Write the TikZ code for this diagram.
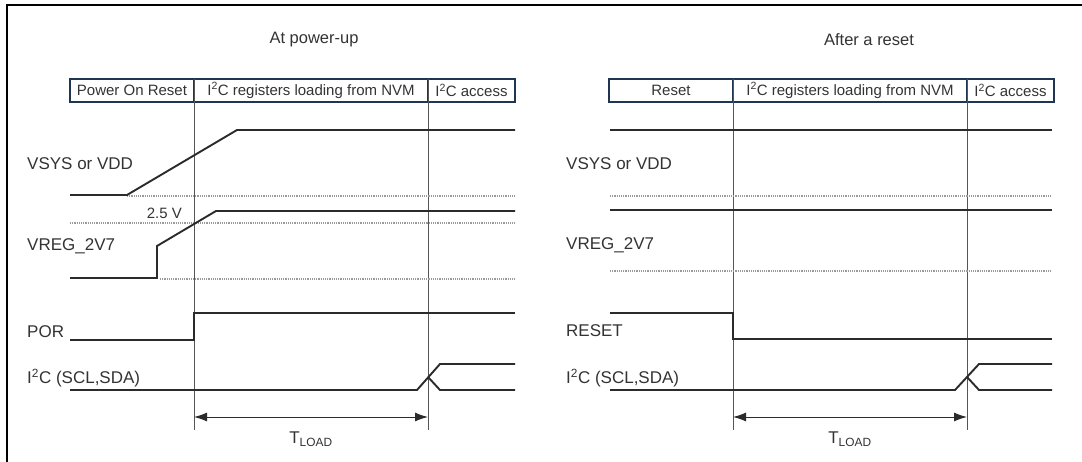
\documentclass[tikz,border=0pt]{standalone}
\usepackage{fontspec}
\setmainfont{Liberation Sans}
\usetikzlibrary{positioning,arrows.meta}

\definecolor{sigline}{HTML}{2B2B2B}
\definecolor{gridline}{HTML}{9A9A9A}
\definecolor{markline}{HTML}{555555}
\definecolor{boxline}{HTML}{1F3552}
\definecolor{labeltext}{HTML}{333333}

\tikzset{
  signal/.style={draw=sigline, line width=1.9pt},
  marker/.style={draw=markline, line width=0.9pt},
  level/.style={draw=gridline, line width=1.2pt, densely dotted},
  phasebox/.style={draw=boxline, line width=1.3pt, minimum height=23pt,
    inner sep=0pt, outer sep=0pt, text=labeltext,
    font=\fontsize{15}{17}\selectfont},
  siglabel/.style={anchor=west, inner sep=0pt, text=labeltext,
    font=\fontsize{17}{19}\selectfont},
  heading/.style={inner sep=0pt, text=labeltext,
    font=\fontsize{16.5}{19}\selectfont},
  span/.style={draw=sigline, line width=1pt,
    {Latex[length=13pt,width=9pt]}-{Latex[length=13pt,width=9pt]}},
}

\newcommand{\iic}{I\textsuperscript{2}C}

\begin{document}
\begin{tikzpicture}[x=1pt, y=-1pt]
      \useasboundingbox (0,0) rectangle (1082,462);
      % frame round the figure
      \draw[line width=2.6pt] (7,462) -- (7,5) -- (1082,5);

      % AtPowerUp:
      %   phases after the supply comes up
      \node[heading] (upTitle) at (314,40) {At power-up};
      \node[phasebox, anchor=west, minimum width=124pt] (upPor) at (70,90.5) {Power On Reset};
      \node[phasebox, right=0pt of upPor, minimum width=234pt] (upLoad) {\iic{} registers loading from NVM};
      \node[phasebox, right=0pt of upLoad, minimum width=87pt] (upAccess) {\iic{} access};
      \coordinate (upT0) at (194,430);
      \coordinate (upT1) at (428,430);
      \draw[marker] (upLoad.north west) -- (upT0);
      \draw[marker] (upAccess.north west) -- (upT1);
      % supply, regulator and reset waveforms
      \node[siglabel] (upVsys) at (27,164) {VSYS or VDD};
      \draw[level] (127,196) -- (515,196);
      \draw[signal] (70,195) -- (127,195) -- (237,130) -- (515,130);
      \node[siglabel, anchor=east, font=\fontsize{15}{17}\selectfont] (upLevel) at (182,213) {2.5 V};
      \node[siglabel] (upVreg) at (27,246) {VREG\_2V7};
      \draw[level] (70,223) -- (515,223);
      \draw[level] (160,279) -- (515,279);
      \draw[signal] (70,278) -- (157,278) -- (157,246) -- (216,211) -- (515,211);
      \node[siglabel] (upPorSig) at (27,332) {POR};
      \draw[signal] (70,340) -- (194,340) -- (194,313) -- (515,313);
      \node[siglabel] (upBus) at (27,378) {\iic{} (SCL,SDA)};
      \draw[signal] (70,390) -- (417,390) -- (440,364) -- (515,364);
      \draw[signal] (428,377) -- (440,390) -- (515,390);
      % load time
      \coordinate (upA) at (194,417);
      \coordinate (upB) at (428,417);
      \draw[span] (upA) -- (upB)
        node[midway, below=11pt, text=labeltext, font=\fontsize{17}{19}\selectfont] (upLoadTime) {T\textsubscript{LOAD}};

      % AfterReset:
      %   same phases, supply already up
      \begin{scope}[xshift=539pt]
      \node[heading] (rstTitle) at (330,40) {After a reset};
      \node[phasebox, anchor=west, minimum width=124pt] (rstPhase) at (70,90.5) {Reset};
      \node[phasebox, right=0pt of rstPhase, minimum width=234pt] (rstLoad) {\iic{} registers loading from NVM};
      \node[phasebox, right=0pt of rstLoad, minimum width=87pt] (rstAccess) {\iic{} access};
      \coordinate (rstT0) at (194,430);
      \coordinate (rstT1) at (428,430);
      \draw[marker] (rstLoad.north west) -- (rstT0);
      \draw[marker] (rstAccess.north west) -- (rstT1);
      \node[siglabel] (rstVsys) at (27,164) {VSYS or VDD};
      \draw[level] (71,196) -- (513,196);
      \draw[signal] (71,130) -- (513,130);
      \node[siglabel] (rstVreg) at (27,245) {VREG\_2V7};
      \draw[level] (71,271) -- (513,271);
      \draw[signal] (71,210) -- (513,210);
      \node[siglabel] (rstSig) at (27,331) {RESET};
      \draw[signal] (71,313) -- (194,313) -- (194,339) -- (513,339);
      \node[siglabel] (rstBus) at (27,378) {\iic{} (SCL,SDA)};
      \draw[signal] (71,390) -- (416,390) -- (440,364) -- (513,364);
      \draw[signal] (428,377) -- (440,390) -- (513,390);
      \coordinate (rstA) at (194,417);
      \coordinate (rstB) at (428,417);
      \draw[span] (rstA) -- (rstB)
        node[midway, below=11pt, text=labeltext, font=\fontsize{17}{19}\selectfont] (rstLoadTime) {T\textsubscript{LOAD}};
      \end{scope}
\end{tikzpicture}
\end{document}
